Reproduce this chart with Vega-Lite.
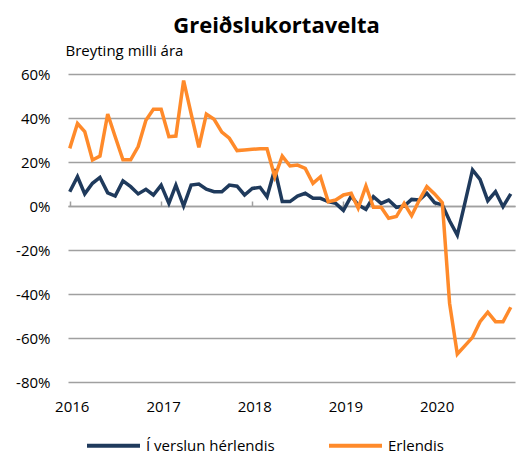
{
  "$schema": "https://vega.github.io/schema/vega-lite/v6.json",
  "autosize": "none",
  "width": 447,
  "height": 308,
  "padding": {"left": 68, "top": 74, "right": 8, "bottom": 73},
  "background": "white",
  "config": {
    "view": {"stroke": null},
    "font": "Open Sans"
  },
  "title": {
    "text": "Greiðslukortavelta",
    "font": "Open Sans",
    "fontSize": 22,
    "fontWeight": "bold",
    "color": "#000000",
    "anchor": "middle",
    "dx": -15,
    "offset": 5
  },
  "data": {
    "values": [
      {"date": "2016-01", "Í verslun hérlendis": 6.5, "Erlendis": 26.2},
      {"date": "2016-02", "Í verslun hérlendis": 13.3, "Erlendis": 37.5},
      {"date": "2016-03", "Í verslun hérlendis": 5.5, "Erlendis": 33.8},
      {"date": "2016-04", "Í verslun hérlendis": 10.3, "Erlendis": 20.9},
      {"date": "2016-05", "Í verslun hérlendis": 13, "Erlendis": 22.7},
      {"date": "2016-06", "Í verslun hérlendis": 6, "Erlendis": 41.8},
      {"date": "2016-07", "Í verslun hérlendis": 4.5, "Erlendis": 31.5},
      {"date": "2016-08", "Í verslun hérlendis": 11.4, "Erlendis": 21},
      {"date": "2016-09", "Í verslun hérlendis": 8.8, "Erlendis": 21},
      {"date": "2016-10", "Í verslun hérlendis": 5.5, "Erlendis": 27},
      {"date": "2016-11", "Í verslun hérlendis": 7.6, "Erlendis": 39},
      {"date": "2016-12", "Í verslun hérlendis": 5, "Erlendis": 44},
      {"date": "2017-01", "Í verslun hérlendis": 9.5, "Erlendis": 44},
      {"date": "2017-02", "Í verslun hérlendis": 1.2, "Erlendis": 31.5},
      {"date": "2017-03", "Í verslun hérlendis": 9.5, "Erlendis": 31.8},
      {"date": "2017-04", "Í verslun hérlendis": 0, "Erlendis": 57},
      {"date": "2017-05", "Í verslun hérlendis": 9.5, "Erlendis": 42},
      {"date": "2017-06", "Í verslun hérlendis": 10, "Erlendis": 26.7},
      {"date": "2017-07", "Í verslun hérlendis": 7.6, "Erlendis": 41.8},
      {"date": "2017-08", "Í verslun hérlendis": 6.5, "Erlendis": 39.4},
      {"date": "2017-09", "Í verslun hérlendis": 6.5, "Erlendis": 33.6},
      {"date": "2017-10", "Í verslun hérlendis": 9.5, "Erlendis": 30.8},
      {"date": "2017-11", "Í verslun hérlendis": 9, "Erlendis": 25.2},
      {"date": "2017-12", "Í verslun hérlendis": 5, "Erlendis": 25.5},
      {"date": "2018-01", "Í verslun hérlendis": 8, "Erlendis": 25.8},
      {"date": "2018-02", "Í verslun hérlendis": 8.5, "Erlendis": 26},
      {"date": "2018-03", "Í verslun hérlendis": 4.2, "Erlendis": 26},
      {"date": "2018-04", "Í verslun hérlendis": 16.7, "Erlendis": 13.3},
      {"date": "2018-05", "Í verslun hérlendis": 2, "Erlendis": 22.7},
      {"date": "2018-06", "Í verslun hérlendis": 2, "Erlendis": 18.2},
      {"date": "2018-07", "Í verslun hérlendis": 4.5, "Erlendis": 18.6},
      {"date": "2018-08", "Í verslun hérlendis": 5.8, "Erlendis": 17.1},
      {"date": "2018-09", "Í verslun hérlendis": 3.5, "Erlendis": 10.3},
      {"date": "2018-10", "Í verslun hérlendis": 3.5, "Erlendis": 13.3},
      {"date": "2018-11", "Í verslun hérlendis": 2, "Erlendis": 2},
      {"date": "2018-12", "Í verslun hérlendis": 1.2, "Erlendis": 2.7},
      {"date": "2019-01", "Í verslun hérlendis": -2, "Erlendis": 5},
      {"date": "2019-02", "Í verslun hérlendis": 4.5, "Erlendis": 5.8},
      {"date": "2019-03", "Í verslun hérlendis": 0.5, "Erlendis": -1},
      {"date": "2019-04", "Í verslun hérlendis": -1.5, "Erlendis": 9.1},
      {"date": "2019-05", "Í verslun hérlendis": 4.2, "Erlendis": -0.6},
      {"date": "2019-06", "Í verslun hérlendis": 1.2, "Erlendis": -0.6},
      {"date": "2019-07", "Í verslun hérlendis": 2.7, "Erlendis": -5.6},
      {"date": "2019-08", "Í verslun hérlendis": -0.6, "Erlendis": -4.8},
      {"date": "2019-09", "Í verslun hérlendis": 0, "Erlendis": 1.2},
      {"date": "2019-10", "Í verslun hérlendis": 3, "Erlendis": -4.4},
      {"date": "2019-11", "Í verslun hérlendis": 2.7, "Erlendis": 2.7},
      {"date": "2019-12", "Í verslun hérlendis": 5.8, "Erlendis": 8.8},
      {"date": "2020-01", "Í verslun hérlendis": 1.5, "Erlendis": 5.5},
      {"date": "2020-02", "Í verslun hérlendis": 0.5, "Erlendis": 1.5},
      {"date": "2020-03", "Í verslun hérlendis": -6.7, "Erlendis": -44.2},
      {"date": "2020-04", "Í verslun hérlendis": -13.2, "Erlendis": -67.3},
      {"date": "2020-05", "Í verslun hérlendis": 1.2, "Erlendis": -63.6},
      {"date": "2020-06", "Í verslun hérlendis": 16.4, "Erlendis": -59.7},
      {"date": "2020-07", "Í verslun hérlendis": 12.1, "Erlendis": -52.6},
      {"date": "2020-08", "Í verslun hérlendis": 2.4, "Erlendis": -48.3},
      {"date": "2020-09", "Í verslun hérlendis": 6.5, "Erlendis": -52.6},
      {"date": "2020-10", "Í verslun hérlendis": -0.3, "Erlendis": -52.6},
      {"date": "2020-11", "Í verslun hérlendis": 5.5, "Erlendis": -46}
    ]
  },
  "transform": [
    {"fold": ["Í verslun hérlendis", "Erlendis"], "as": ["series", "value"]}
  ],
  "mark": {"type": "line", "strokeWidth": 3.5, "strokeJoin": "miter", "clip": false},
  "encoding": {
    "x": {
      "field": "date",
      "type": "temporal",
      "scale": {"type": "utc", "domain": ["2015-12-25", "2020-11-18"]},
      "axis": {
        "title": null,
        "format": "%Y",
        "tickCount": {"interval": "year"},
        "offset": -176,
        "grid": false,
        "domain": true,
        "domainColor": "#a0a0a0",
        "domainWidth": 1.5,
        "ticks": true,
        "tickColor": "#a0a0a0",
        "tickWidth": 1.5,
        "tickSize": -5,
        "labelPadding": 198,
        "labelOffset": 2,
        "labelFont": "Open Sans",
        "labelFontSize": 15,
        "labelColor": "#000000",
        "labelFlush": false
      }
    },
    "y": {
      "field": "value",
      "type": "quantitative",
      "scale": {"domain": [-80, 60], "nice": false},
      "axis": {
        "values": [-80, -60, -40, -20, 0, 20, 40, 60],
        "labelExpr": "datum.value + '%'",
        "title": "Breyting milli ára",
        "titleAngle": 0,
        "titleAlign": "left",
        "titleBaseline": "alphabetic",
        "titleX": -3,
        "titleY": -19,
        "titleFont": "Open Sans",
        "titleFontSize": 15,
        "titleFontWeight": "normal",
        "titleColor": "#000000",
        "domain": false,
        "ticks": false,
        "grid": true,
        "gridColor": "#a0a0a0",
        "gridWidth": 1.5,
        "labelPadding": 18,
        "labelFont": "Open Sans",
        "labelFontSize": 15,
        "labelColor": "#000000"
      }
    },
    "color": {
      "field": "series",
      "type": "nominal",
      "scale": {
        "domain": ["Í verslun hérlendis", "Erlendis"],
        "range": ["#1F3A5C", "#FF8A2A"]
      },
      "legend": {
        "title": null,
        "orient": "none",
        "legendX": 17,
        "legendY": 343,
        "direction": "horizontal",
        "columns": 2,
        "columnPadding": 46,
        "symbolType": "stroke",
        "symbolSize": 2809,
        "symbolStrokeWidth": 4,
        "labelFont": "Open Sans",
        "labelFontSize": 15,
        "labelColor": "#000000",
        "labelOffset": 4,
        "labelLimit": 300
      }
    }
  }
}
